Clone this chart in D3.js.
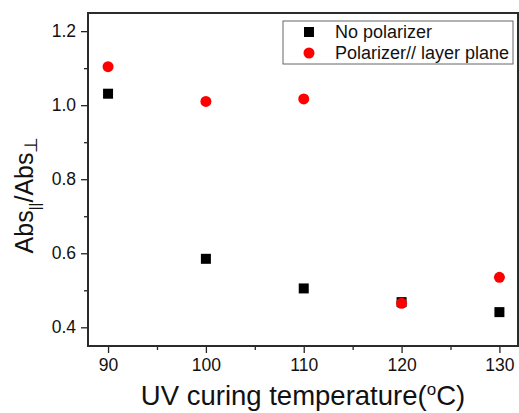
<!DOCTYPE html>
<html>
<head>
<meta charset="utf-8">
<script src="https://cdn.jsdelivr.net/npm/d3@7"></script>
<style>
  body { margin: 0; background: #fff; }
  text { font-family: Arial, "Liberation Sans", sans-serif; }
</style>
</head>
<body>
<div id="chart"></div>
<script>
// temperatures (deg C)
var temps = [90, 100, 110, 120, 130];
// Abs|| / Abs-perp ratios
var noPolarizer = [1.031, 0.585, 0.505, 0.468, 0.441];
var polarizerLayer = [1.104, 1.010, 1.017, 0.465, 0.535];
var xTicks = [90, 100, 110, 120, 130];
var yTicks = [0.4, 0.6, 0.8, 1.0, 1.2];
var seriesNames = ["No polarizer", "Polarizer// layer plane"];

const margin = {top: 13, right: 1, bottom: 67, left: 88},
    width = 519 - margin.left - margin.right,
    height = 413 - margin.top - margin.bottom;

var svg = d3.select("#chart")
    .append("svg")
    .attr("width", 519)
    .attr("height", 413)
    .append("g")
    .attr("transform", `translate(${margin.left},${margin.top})`);

var x = d3.scaleLinear().domain([87.95, 131.9]).range([0, width]);
var y = d3.scaleLinear().domain([0.3495, 1.249]).range([height, 0]);

// minor ticks first, then major with labels
svg.append("g")
    .attr("transform", `translate(0, ${height})`)
    .call(d3.axisBottom(x).tickValues([95, 105, 115, 125]).tickSize(4).tickFormat(""))
    .call(g => g.select(".domain").remove());
svg.append("g")
    .call(d3.axisLeft(y).tickValues([0.5, 0.7, 0.9, 1.1]).tickSize(4).tickFormat(""))
    .call(g => g.select(".domain").remove());

var xAxis = svg.append("g")
    .attr("transform", `translate(0, ${height})`)
    .call(d3.axisBottom(x).tickValues(xTicks).tickSize(7).tickPadding(6).tickFormat(d3.format("d")))
    .style("font-size", "17.5px");
xAxis.select(".domain").remove();

var yAxis = svg.append("g")
    .call(d3.axisLeft(y).tickValues(yTicks).tickSize(7).tickPadding(5).tickFormat(d3.format(".1f")))
    .style("font-size", "17.5px");
yAxis.select(".domain").remove();

svg.selectAll(".tick line").attr("stroke", "#222").attr("stroke-width", 1.3);
svg.selectAll(".tick text").attr("fill", "#111").attr("font-family", "Arial, 'Liberation Sans', sans-serif");

// frame
svg.append("rect")
    .attr("x", 0).attr("y", 0)
    .attr("width", width).attr("height", height)
    .attr("fill", "none")
    .attr("stroke", "#2b2b2b")
    .attr("stroke-width", 2);

// Axis titles
svg.append("text")
    .attr("x", 215)
    .attr("y", height + 59)
    .attr("font-size", "27.5px")
    .attr("text-anchor", "middle")
    .attr("fill", "#111")
    .html('UV curing temperature(<tspan font-size="17px" dy="-10">o</tspan><tspan dy="10">C)</tspan>');

svg.append("text")
    .attr("transform", `translate(-55, 182) rotate(-90)`)
    .attr("font-size", "25px")
    .attr("text-anchor", "middle")
    .attr("fill", "#111")
    .html('Abs<tspan font-size="15px" dy="7">||</tspan><tspan dy="-7">/Abs</tspan><tspan font-size="18px" dy="4">⊥</tspan>');

var pts = temps.map(function(t, i) { return {t: t, a: noPolarizer[i], b: polarizerLayer[i]}; });

// black squares
svg.selectAll(".sq")
    .data(pts)
    .join("rect")
    .attr("class", "sq")
    .attr("x", d => x(d.t) - 5)
    .attr("y", d => y(d.a) - 5)
    .attr("width", 10)
    .attr("height", 10)
    .attr("fill", "black");

// red circles
svg.selectAll(".dot")
    .data(pts)
    .join("circle")
    .attr("class", "dot")
    .attr("cx", d => x(d.t))
    .attr("cy", d => y(d.b))
    .attr("r", 5.5)
    .attr("fill", "red");

// legend
var lg = svg.append("g").attr("transform", `translate(${283 - margin.left}, ${21 - margin.top})`);
lg.append("rect")
    .attr("width", 230).attr("height", 43)
    .attr("fill", "white")
    .attr("stroke", "#666")
    .attr("stroke-width", 1);
lg.append("rect").attr("x", 21).attr("y", 6).attr("width", 10).attr("height", 10).attr("fill", "black");
lg.append("circle").attr("cx", 26).attr("cy", 32).attr("r", 5.5).attr("fill", "red");
lg.selectAll(".lt")
    .data(seriesNames)
    .join("text")
    .attr("class", "lt")
    .attr("x", 52)
    .attr("y", (d, i) => 17 + i * 21)
    .attr("font-size", "18px")
    .attr("fill", "#111")
    .text(d => d);
</script>
</body>
</html>
